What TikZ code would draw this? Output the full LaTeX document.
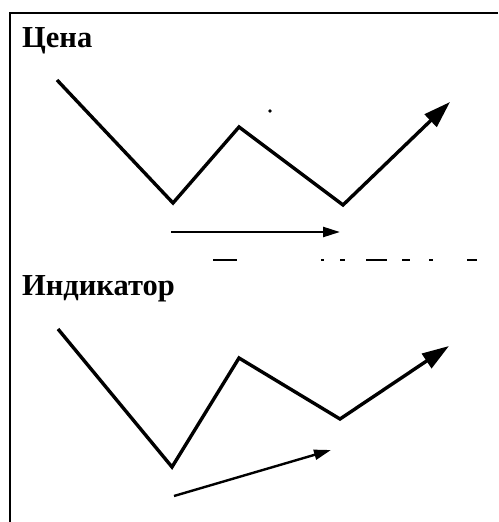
\documentclass[tikz,border=0pt]{standalone}
\usepackage{fontspec}
\setmainfont{Liberation Serif}
\usetikzlibrary{arrows.meta, positioning}
\tikzset{
  frameline/.style={line width=1.8pt, black},
  trendline/.style={line width=3.4pt, black, line join=miter},
  trendarrow/.style={trendline, -{Triangle[length=27pt, width=17pt]}},
  slopearrow/.style={line width=2.4pt, black, -{Triangle[length=17pt, width=10pt]}},
  paneltitle/.style={font=\fontsize{30.5}{33}\selectfont\bfseries, anchor=base west, inner sep=0pt},
}

\begin{document}
\begin{tikzpicture}[x=1pt, y=-1pt]
  \useasboundingbox (0,0) rectangle (498,522);

  % frame
  \coordinate (tl) at (10,13);
  \coordinate (tr) at (498,13);
  \coordinate (bl) at (10,522);
  \draw[frameline] (tr) -- (tl) -- (bl);

  % price panel
  \node (price) [paneltitle] at (22,47) {Цена};
  \coordinate (p1) at (57,80);
  \coordinate (p2) at (173,203);
  \coordinate (p3) at (239,127);
  \coordinate (p4) at (343,205);
  \coordinate (p5) at (450,102);
  \draw[trendarrow] (p1) -- (p2) -- (p3) -- (p4) -- (p5);
  \coordinate (pa) at (171,232);
  \coordinate (pb) at (340,232);
  \draw[slopearrow] (pa) -- (pb);
  \fill (270,111) circle (1.8);

  % broken separator
  \draw[line width=1.6pt, dash pattern=on 24pt off 84pt on 3pt off 16pt on 5pt off 21pt on 21pt off 15pt on 8pt off 19pt on 4pt off 34pt on 10pt off 50pt]
    (213,260) -- (477,260);

  % indicator panel
  \node (ind) [paneltitle] at (22,295) {Индикатор};
  \coordinate (i1) at (58,329);
  \coordinate (i2) at (172,467);
  \coordinate (i3) at (239,358);
  \coordinate (i4) at (340,419);
  \coordinate (i5) at (449,346);
  \draw[trendarrow] (i1) -- (i2) -- (i3) -- (i4) -- (i5);
  \coordinate (ia) at (174,496);
  \coordinate (ib) at (331,450);
  \draw[slopearrow] (ia) -- (ib);
\end{tikzpicture}
\end{document}
